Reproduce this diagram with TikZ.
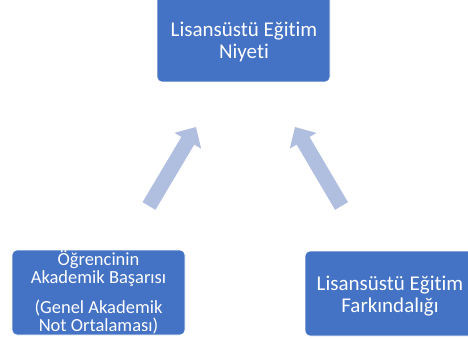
\documentclass[tikz,border=0pt]{standalone}
\usepackage{fontspec}
\setmainfont{Carlito}[Ligatures=NoCommon]
\usetikzlibrary{arrows.meta}
\definecolor{boxblue}{RGB}{68,114,196}
\definecolor{arrowblue}{RGB}{176,190,224}
\begin{document}
\begin{tikzpicture}[x=1pt,y=-1pt,
  box/.style={draw=white, line width=0.6pt, fill=boxblue, rounded corners=5pt, inner sep=0pt, minimum width=173pt},
  bigtxt/.style={text=white, align=center, font=\fontsize{21}{22}\selectfont, inner sep=0pt, anchor=base},
  smalltxt/.style={text=white, align=center, font=\fontsize{18.5}{18}\selectfont, inner sep=0pt, anchor=base},
  fatarrow/.style={draw=arrowblue, line width=15pt, -{Triangle[width=30pt,length=16pt]}}]
\useasboundingbox (0,0) rectangle (468,339);
\clip (0,0) rectangle (468,339);
\node[box, minimum height=92pt] (top) at (243.5,36) {};
\node[bigtxt] (toptext) at (244,58.5) {Lisansüstü Eğitim\\Niyeti};
\node[box, minimum height=85pt] (left) at (98.5,292.5) {};
\node[smalltxt] (lefttext) at (98.5,331.5) {Öğrencinin\\Akademik Başarısı\\[12pt](Genel Akademik\\Not Ortalaması)};
\node[box, minimum height=85pt] (right) at (391.5,293.5) {};
\node[bigtxt] (righttext) at (390,312) {Lisansüstü Eğitim\\Farkındalığı};
\coordinate (la1) at (149,206);
\coordinate (la2) at (196,127);
\coordinate (ra1) at (341.5,206);
\coordinate (ra2) at (295,127);
\draw[fatarrow] (la1) -- (la2);
\draw[fatarrow] (ra1) -- (ra2);
\end{tikzpicture}
\end{document}
